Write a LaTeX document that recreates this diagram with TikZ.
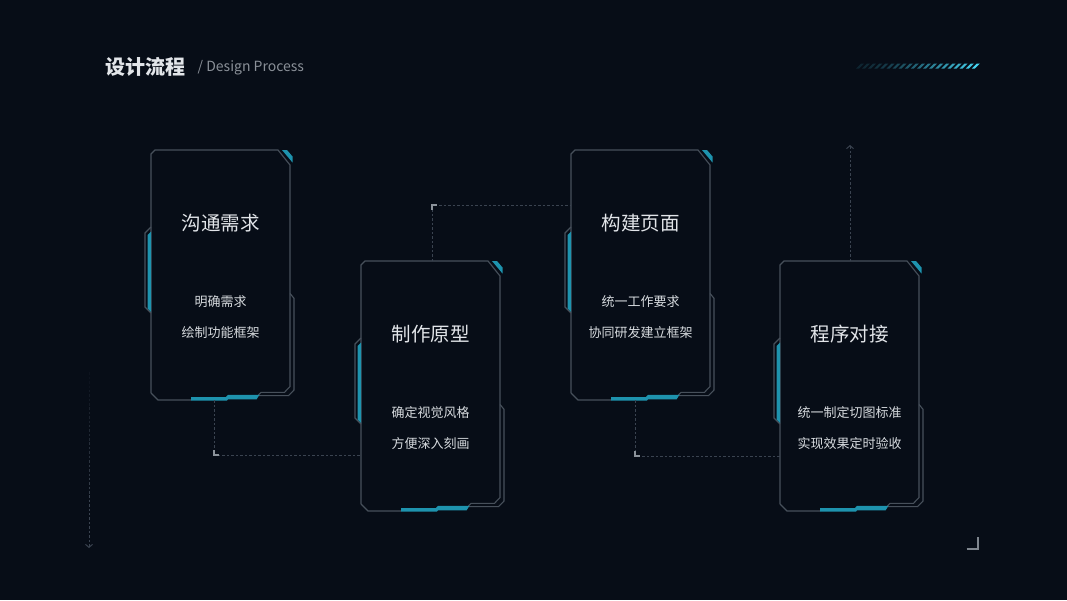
\documentclass[tikz,border=0pt]{standalone}
\usepackage{fontspec}
\setmainfont{Noto Sans CJK SC}
\usetikzlibrary{arrows.meta,calc}
\definecolor{bg}{HTML}{070D17}
\definecolor{framec}{HTML}{47505B}
\definecolor{tealc}{HTML}{1E93AE}
\definecolor{txtc}{HTML}{E2E5E9}
\definecolor{subc}{HTML}{D6DADE}
\definecolor{dashc}{HTML}{3A4350}
\definecolor{markc}{HTML}{8C939B}
\definecolor{cyanc}{HTML}{44D2F0}
\definecolor{greyt}{HTML}{8A9098}
\tikzset{
  cardbox/.style={minimum width=139pt, minimum height=250pt, inner sep=0pt, anchor=north west},
  cardline/.style={draw=framec, line width=1.1pt, line join=miter},
  tealfill/.style={fill=tealc},
  cardtitle/.style={text=txtc, font=\fontsize{19.5}{23}\selectfont, inner sep=0pt},
  cardsub/.style={text=subc, font=\fontsize{13}{16}\selectfont, inner sep=0pt},
  dashline/.style={draw=dashc, line width=1pt, dash pattern=on 2.5pt off 2pt},
  cornermark/.style={draw=markc, line width=1.3pt},
  chevron/.style={-{Straight Barb[length=3pt,width=7pt,line width=1pt]}},
}
\newcommand\mycard{%
  \draw[cardline] (0,243) -- (0,4) -- (4,0) -- (127,0) -- (139,15) -- (139,236.5) -- (133.5,242.3) -- (110,242.3) -- (107.5,245);
  \draw[cardline] (0,243) -- (7,250) -- (40,250);
  \draw[cardline] (107,245.6) -- (137.5,245.6) -- (143,240) -- (143,148.3) -- (139,143.5);
  \draw[cardline] (0,77) -- (-6,83) -- (-6,157) -- (0,163);
  \fill[tealfill] (-3.3,85) -- (0,81.5) -- (0,162) -- (-3.3,158.5) -- cycle;
  \fill[tealfill] (131,0) -- (136,0) -- (141.5,6.5) -- (141.5,12.5) -- cycle;
  \fill[tealfill] (40,247) -- (75,247) -- (77,244.8) -- (108.5,244.8) -- (105.5,249.4) -- (77,249.4) -- (76,250.5) -- (40,250.5) -- cycle;
}
\begin{document}
\begin{tikzpicture}[x=1pt, y=-1pt]
\useasboundingbox[fill=bg] (0,0) rectangle (1067,600);

% heading
\node[anchor=west, inner sep=0pt, text=txtc, font=\fontsize{20}{24}\selectfont\bfseries] (head) at (105.5,66.5) {设计流程};
\node[anchor=base west, inner sep=0pt, text=greyt, font=\fontsize{14}{16}\selectfont] (headen) at (197.5,71.5) {/ Design Process};

% stripes
\foreach \i in {0,...,19}{
  \pgfmathsetmacro{\pc}{12+88*(\i/19)^1.4}
  \fill[cyanc!\pc!bg] ({856+6.1*\i},68.5) -- ({859+6.1*\i},68.5) -- ({864+6.1*\i},63.5) -- ({861+6.1*\i},63.5) -- cycle;
}

% cards
\node[cardbox] (card1) at (151,150) {};
\node[cardbox] (card2) at (361,261) {};
\node[cardbox] (card3) at (571,150) {};
\node[cardbox] (card4) at (780,261) {};

\begin{scope}[shift={(card1.north west)}]
  \mycard
  \node[cardtitle] (t1) at (69.5,73) {沟通需求};
  \node[cardsub] (s1a) at (69.5,151.5) {明确需求};
  \node[cardsub] (s1b) at (69.5,183) {绘制功能框架};
\end{scope}
\begin{scope}[shift={(card2.north west)}]
  \mycard
  \node[cardtitle] (t2) at (69.5,73) {制作原型};
  \node[cardsub] (s2a) at (69.5,151.5) {确定视觉风格};
  \node[cardsub] (s2b) at (69.5,183) {方便深入刻画};
\end{scope}
\begin{scope}[shift={(card3.north west)}]
  \mycard
  \node[cardtitle] (t3) at (69.5,73) {构建页面};
  \node[cardsub] (s3a) at (69.5,151.5) {统一工作要求};
  \node[cardsub] (s3b) at (69.5,183) {协同研发建立框架};
\end{scope}
\begin{scope}[shift={(card4.north west)}]
  \mycard
  \node[cardtitle] (t4) at (69.5,73) {程序对接};
  \node[cardsub] (s4a) at (69.5,151.5) {统一制定切图标准};
  \node[cardsub] (s4b) at (69.5,183) {实现效果定时验收};
\end{scope}

% connectors
\coordinate (k1) at (214,455);
\coordinate (k2) at (432,205);
\coordinate (k3) at (635,456);
\draw[dashline] (card1.south -| k1) -- (k1) -- (k1 -| card2.west);
\draw[dashline] (card2.north -| k2) -- (k2) -- (k2 -| card3.west);
\draw[dashline] (card3.south -| k3) -- (k3) -- (k3 -| card4.west);
\draw[cornermark] (k1) ++(0,-5) -- (k1) -- ++(5,0);
\draw[cornermark] (k2) ++(0,5) -- (k2) -- ++(5,0);
\draw[cornermark] (k3) ++(0,-5) -- (k3) -- ++(5,0);

% free arrows (left one fades in from the top)
\coordinate (a1s) at (89,372);
\coordinate (a1e) at (89,548);
\foreach \j in {0,...,7}{
  \pgfmathsetmacro{\fa}{\j/10}
  \pgfmathsetmacro{\fb}{(\j+1)/10}
  \pgfmathsetmacro{\op}{(\j+1)/8}
  \draw[dashline, draw opacity=\op] ($(a1s)!\fa!(a1e)$) -- ($(a1s)!\fb!(a1e)$);
}
\draw[dashline, chevron] ($(a1s)!0.8!(a1e)$) -- (a1e);
\coordinate (a2) at (850,145);
\draw[dashline, chevron] (card4.north -| a2) -- (a2);

% corner bracket
\coordinate (cb) at (978,549);
\draw[draw=markc!90!bg, line width=2pt] (966.5,549) -- (cb) -- (978,537);
\end{tikzpicture}
\end{document}
